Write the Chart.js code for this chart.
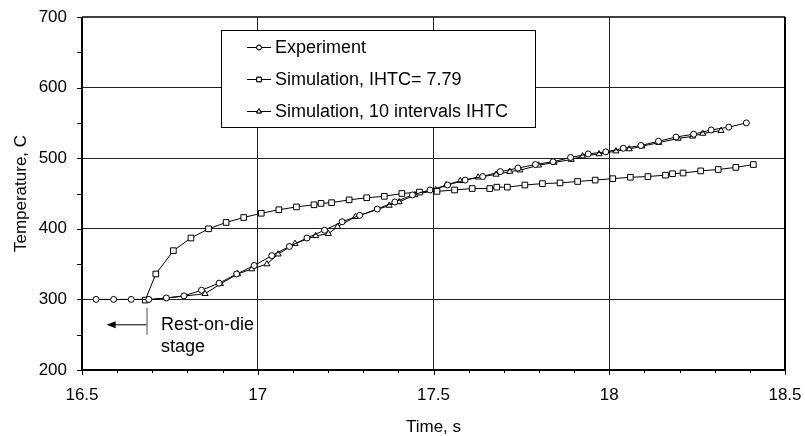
<!DOCTYPE html>
<html>
<head>
<meta charset="utf-8">
<script src="https://cdn.jsdelivr.net/npm/chart.js@4.4.0/dist/chart.umd.min.js"></script>
<style>
  html, body { margin: 0; padding: 0; background: #fff; }
</style>
</head>
<body>
<canvas id="chart" width="805" height="436"></canvas>
<script>
// experiment (circles)
const expTime = [16.54, 16.59, 16.64, 16.69, 16.74, 16.79, 16.84, 16.89, 16.94, 16.99,
  17.04, 17.09, 17.14, 17.19, 17.24, 17.29, 17.34, 17.39, 17.44, 17.49,
  17.54, 17.59, 17.64, 17.69, 17.74, 17.79, 17.84, 17.89, 17.94, 17.99,
  18.04, 18.09, 18.14, 18.19, 18.24, 18.29, 18.34, 18.39]
const expTemp = [300, 300, 300, 300, 302, 305, 313, 323, 336, 348,
  362, 375, 387, 398, 410, 419, 428, 438, 448, 455,
  462, 469, 474, 481, 486, 491, 495, 501, 506, 509,
  514, 518, 524, 530, 534, 540, 544, 550]

// simulation, IHTC = 7.79 (squares)
const simTime = [16.68, 16.71, 16.76, 16.81, 16.86, 16.91, 16.96, 17.01, 17.06, 17.11,
  17.16, 17.18, 17.21, 17.26, 17.31, 17.36, 17.41, 17.46, 17.51, 17.56,
  17.61, 17.66, 17.68, 17.71, 17.76, 17.81, 17.86, 17.91, 17.96, 18.01,
  18.06, 18.11, 18.16, 18.18, 18.21, 18.26, 18.31, 18.36, 18.41]
const simTemp = [299, 336, 369, 387, 400, 409, 416, 422, 427, 431,
  434, 436, 437, 441, 444, 446, 450, 452, 453, 455,
  457, 457, 459, 459, 462, 464, 465, 467, 469, 471,
  473, 474, 476, 478, 479, 482, 484, 487, 491]

// simulation, 10 intervals IHTC (triangles)
const intTime = [16.685, 16.85, 16.894, 16.943, 16.983, 17.026, 17.058, 17.106, 17.165, 17.201,
  17.227, 17.278, 17.374, 17.402, 17.447, 17.506, 17.536, 17.576, 17.627, 17.678,
  17.717, 17.746, 17.799, 17.843, 17.892, 17.924, 17.971, 18.019, 18.057, 18.093,
  18.141, 18.196, 18.237, 18.266, 18.318]
const intTemp = [299, 308, 322, 336, 343, 350, 364, 379, 390, 393,
  403, 417, 433, 438, 448, 455, 462, 468, 473, 477,
  481, 483, 490, 494, 498, 503, 506, 510, 513, 517,
  522, 528, 531, 535, 539]

const seriesNames = ['Experiment', 'Simulation, IHTC= 7.79', 'Simulation, 10 intervals IHTC']
const seriesStyles = ['circle', 'rect', 'triangle']
const seriesRadius = [3, 4, 3.5]

const xMin = 16.5, xMax = 18.5, xStep = 0.5, xMinor = 0.1
const yMin = 200, yMax = 700, yStep = 100, yMinor = 50

const FONT = 'Liberation Sans, Arial, sans-serif'

function pairs(xs, ys) {
  return xs.map((x, i) => ({ x: x, y: ys[i] }))
}

function makeSet(i, xs, ys) {
  return {
    label: seriesNames[i],
    data: pairs(xs, ys),
    showLine: true,
    borderColor: '#000',
    borderWidth: 1,
    backgroundColor: '#fff',
    pointStyle: seriesStyles[i],
    pointRadius: seriesRadius[i],
    pointBorderColor: '#000',
    pointBackgroundColor: '#fff',
    pointBorderWidth: 1,
    tension: 0
  }
}

function noPad(scale) {
  scale.paddingTop = 0
  scale.paddingBottom = 0
  scale.paddingLeft = 0
  scale.paddingRight = 0
}

const framePlugin = {
  id: 'frame',
  afterDraw(chart) {
    const ctx = chart.ctx
    const xs = chart.scales.x
    const ys = chart.scales.y
    const a = chart.chartArea
    ctx.save()

    // tick marks
    ctx.strokeStyle = '#000'
    ctx.lineWidth = 1
    ctx.beginPath()
    for (let v = yMin; v <= yMax + 0.001; v += yMinor) {
      const py = Math.round(ys.getPixelForValue(v)) + 0.5
      ctx.moveTo(a.left - 5, py)
      ctx.lineTo(a.left, py)
    }
    for (let k = 0; k <= Math.round((xMax - xMin) / xMinor); k++) {
      const v = xMin + k * xMinor
      const px = Math.round(xs.getPixelForValue(v)) + 0.5
      const major = k % 5 === 0
      ctx.moveTo(px, a.bottom)
      ctx.lineTo(px, a.bottom + (major ? 5 : 3))
    }
    ctx.stroke()

    // frame
    ctx.lineWidth = 2
    ctx.beginPath()
    ctx.moveTo(a.left, a.top)
    ctx.lineTo(a.left, a.bottom)
    ctx.lineTo(a.right, a.bottom)
    ctx.lineTo(a.right, a.top)
    ctx.stroke()
    ctx.lineWidth = 1.5
    ctx.beginPath()
    ctx.moveTo(a.left, a.top)
    ctx.lineTo(a.right, a.top)
    ctx.stroke()

    // legend
    const lx = 221, ly = 30, lw = 314, lh = 97
    ctx.fillStyle = '#fff'
    ctx.fillRect(lx, ly, lw, lh)
    ctx.lineWidth = 1
    ctx.strokeStyle = '#000'
    ctx.strokeRect(lx + 0.5, ly + 0.5, lw, lh)
    ctx.font = '18px ' + FONT
    ctx.textBaseline = 'middle'
    ctx.textAlign = 'left'
    seriesNames.forEach((name, i) => {
      const ry = 47 + i * 32
      ctx.beginPath()
      ctx.moveTo(247, ry + 0.5)
      ctx.lineTo(271, ry + 0.5)
      ctx.stroke()
      ctx.fillStyle = '#fff'
      Chart.helpers.drawPoint(ctx, {
        pointStyle: seriesStyles[i], radius: seriesRadius[i] * 0.8, borderWidth: 1
      }, 259, ry + 0.5)
      ctx.fill()
      ctx.stroke()
      ctx.fillStyle = '#000'
      ctx.fillText(name, 275, ry + 1)
    })

    // rest-on-die annotation
    const barX = xs.getPixelForValue(16.685)
    const tipX = xs.getPixelForValue(16.57)
    const arY = ys.getPixelForValue(264)
    ctx.strokeStyle = '#000'
    ctx.lineWidth = 1
    ctx.beginPath()
    ctx.moveTo(tipX + 6, arY)
    ctx.lineTo(barX, arY)
    ctx.stroke()
    ctx.fillStyle = '#000'
    ctx.beginPath()
    ctx.moveTo(tipX, arY)
    ctx.lineTo(tipX + 9, arY - 3.5)
    ctx.lineTo(tipX + 9, arY + 3.5)
    ctx.closePath()
    ctx.fill()
    ctx.strokeStyle = '#888'
    ctx.lineWidth = 1.5
    ctx.beginPath()
    ctx.moveTo(barX, ys.getPixelForValue(288))
    ctx.lineTo(barX, ys.getPixelForValue(250))
    ctx.stroke()
    ctx.fillStyle = '#000'
    ctx.font = '18px ' + FONT
    ctx.fillText('Rest-on-die', 161, arY)
    ctx.fillText('stage', 161, arY + 22)

    // axis titles
    ctx.font = '17px ' + FONT
    ctx.textAlign = 'center'
    ctx.fillText('Time, s', (a.left + a.right) / 2, 427)
    ctx.translate(21, (a.top + a.bottom) / 2)
    ctx.rotate(-Math.PI / 2)
    ctx.fillText('Temperature, C', 0, 0)
    ctx.restore()
  }
}

new Chart(document.getElementById('chart'), {
  type: 'scatter',
  data: {
    datasets: [
      makeSet(0, expTime, expTemp),
      makeSet(1, simTime, simTemp),
      makeSet(2, intTime, intTemp)
    ]
  },
  options: {
    responsive: false,
    animation: false,
    layout: { padding: { left: 0, top: 17, right: 20, bottom: 0 } },
    plugins: { legend: { display: false }, tooltip: { enabled: false } },
    scales: {
      x: {
        type: 'linear',
        min: xMin,
        max: xMax,
        afterFit(scale) { scale.height = 66; noPad(scale) },
        ticks: {
          stepSize: xStep,
          color: '#000',
          font: { family: FONT, size: 17 },
          padding: 15,
          maxRotation: 0,
          callback: v => String(Math.round(v * 10) / 10)
        },
        grid: {
          drawTicks: false,
          color: c => (c.tick.value > xMin && c.tick.value < xMax) ? '#222' : 'rgba(0,0,0,0)',
          lineWidth: 1
        },
        border: { display: false }
      },
      y: {
        type: 'linear',
        min: yMin,
        max: yMax,
        afterFit(scale) { scale.width = 82; noPad(scale) },
        ticks: {
          stepSize: yStep,
          color: '#000',
          font: { family: FONT, size: 17 },
          padding: 15
        },
        grid: {
          drawTicks: false,
          color: c => (c.tick.value > yMin && c.tick.value < yMax) ? '#222' : 'rgba(0,0,0,0)',
          lineWidth: 1
        },
        border: { display: false }
      }
    }
  },
  plugins: [framePlugin]
})
</script>
</body>
</html>
